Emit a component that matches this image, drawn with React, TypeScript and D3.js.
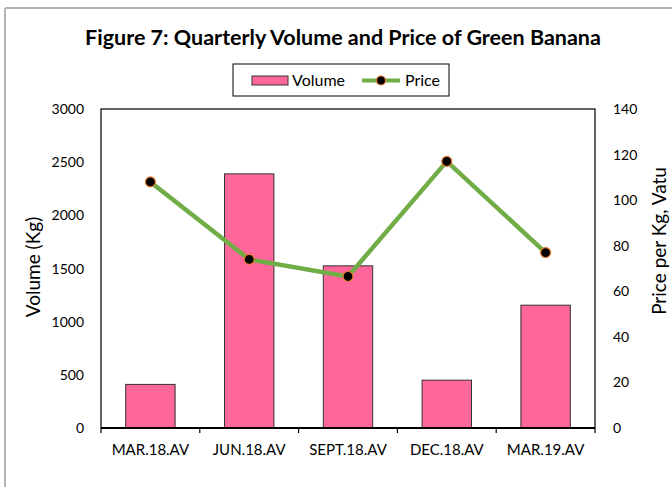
import React from "react";
import * as d3 from "d3";

const categories = ["MAR.18.AV", "JUN.18.AV", "SEPT.18.AV", "DEC.18.AV", "MAR.19.AV"];
const volume = [410, 2390, 1525, 450, 1155];
const price = [108, 74, 66.5, 117, 77];
const volumeTicks = [0, 500, 1000, 1500, 2000, 2500, 3000];
const priceTicks = [0, 20, 40, 60, 80, 100, 120, 140];

const W = 672;
const H = 487;
const M = { left: 101, right: 595, top: 109, bottom: 428 };
const FONT = "Lato, 'Open Sans', sans-serif";

export default function App() {
  const x = d3
    .scaleBand<string>()
    .domain(categories)
    .range([M.left, M.right])
    .paddingInner(0.5)
    .paddingOuter(0.25);
  const yL = d3.scaleLinear().domain([0, 3000]).range([M.bottom, M.top]);
  const yR = d3.scaleLinear().domain([0, 140]).range([M.bottom, M.top]);
  const step = x.step();
  const line = d3
    .line<number>()
    .x((_, i) => (x(categories[i]) as number) + x.bandwidth() / 2)
    .y((d) => yR(d));

  const boundaries = d3.range(categories.length + 1).map((i) => M.left + i * step);

  return (
    <svg
      width={W}
      height={H}
      style={{ position: "absolute", left: 0, top: 0, background: "#fff" }}
      fontFamily={FONT}
    >
      <rect x={0} y={0} width={W} height={H} fill="#fff" />
      {/* outer chart border (top and left visible) */}
      <line x1={5} y1={8} x2={W} y2={8} stroke="#b3b3b3" strokeWidth={2} />
      <line x1={5} y1={8} x2={5} y2={H} stroke="#b3b3b3" strokeWidth={2} />

      {/* title */}
      <text x={343} y={45} textAnchor="middle" fontSize={21.5} fontWeight="bold" fill="#000">
        Figure 7: Quarterly Volume and Price of Green Banana
      </text>

      {/* legend */}
      <rect x={233} y={64} width={216} height={32} fill="#fff" stroke="#000" strokeWidth={1} />
      <rect x={252} y={76} width={36} height={9} fill="#FF6699" stroke="#333" strokeWidth={1} />
      <text x={292} y={86} fontSize={16} fill="#000">Volume</text>
      <line x1={362} y1={80.5} x2={400} y2={80.5} stroke="#70AD47" strokeWidth={4} />
      <circle cx={381} cy={80.5} r={4.5} fill="#000" stroke="#ED7D31" strokeWidth={1.2} />
      <text x={405} y={86} fontSize={16} fill="#000">Price</text>

      {/* plot frame */}
      <rect
        x={M.left}
        y={M.top}
        width={M.right - M.left}
        height={M.bottom - M.top}
        fill="none"
        stroke="#000"
        strokeWidth={1.2}
      />

      {/* bars */}
      {volume.map((v, i) => (
        <rect
          key={categories[i]}
          x={x(categories[i])}
          y={yL(v)}
          width={x.bandwidth()}
          height={M.bottom - yL(v)}
          fill="#FF6699"
          stroke="#333"
          strokeWidth={1}
        />
      ))}

      {/* x axis */}
      <line x1={M.left} y1={M.bottom} x2={M.right} y2={M.bottom} stroke="#000" strokeWidth={2} />
      {boundaries.map((b, i) => (
        <line key={i} x1={b} y1={M.bottom} x2={b} y2={M.bottom + 5} stroke="#000" strokeWidth={1.2} />
      ))}
      {categories.map((c) => (
        <text
          key={c}
          x={(x(c) as number) + x.bandwidth() / 2}
          y={455}
          textAnchor="middle"
          fontSize={15}
          fill="#000"
        >
          {c}
        </text>
      ))}

      {/* left axis labels */}
      {volumeTicks.map((t) => (
        <text key={t} x={84} y={yL(t) + 5} textAnchor="end" fontSize={14} fill="#000">
          {t}
        </text>
      ))}
      {/* right axis labels */}
      {priceTicks.map((t) => (
        <text key={t} x={613} y={yR(t) + 5} textAnchor="start" fontSize={14} fill="#000">
          {t}
        </text>
      ))}

      {/* axis titles */}
      <text
        transform="translate(40,267) rotate(-90)"
        textAnchor="middle"
        fontSize={19}
        fill="#000"
      >
        Volume (Kg)
      </text>
      <text
        transform="translate(666,241) rotate(-90)"
        textAnchor="middle"
        fontSize={19}
        fill="#000"
      >
        Price per Kg, Vatu
      </text>

      {/* price line */}
      <path d={line(price) || ""} fill="none" stroke="#70AD47" strokeWidth={4.5} strokeLinejoin="round" />
      {price.map((p, i) => (
        <circle
          key={i}
          cx={(x(categories[i]) as number) + x.bandwidth() / 2}
          cy={yR(p)}
          r={5}
          fill="#000"
          stroke="#ED7D31"
          strokeWidth={1.2}
        />
      ))}
    </svg>
  );
}
